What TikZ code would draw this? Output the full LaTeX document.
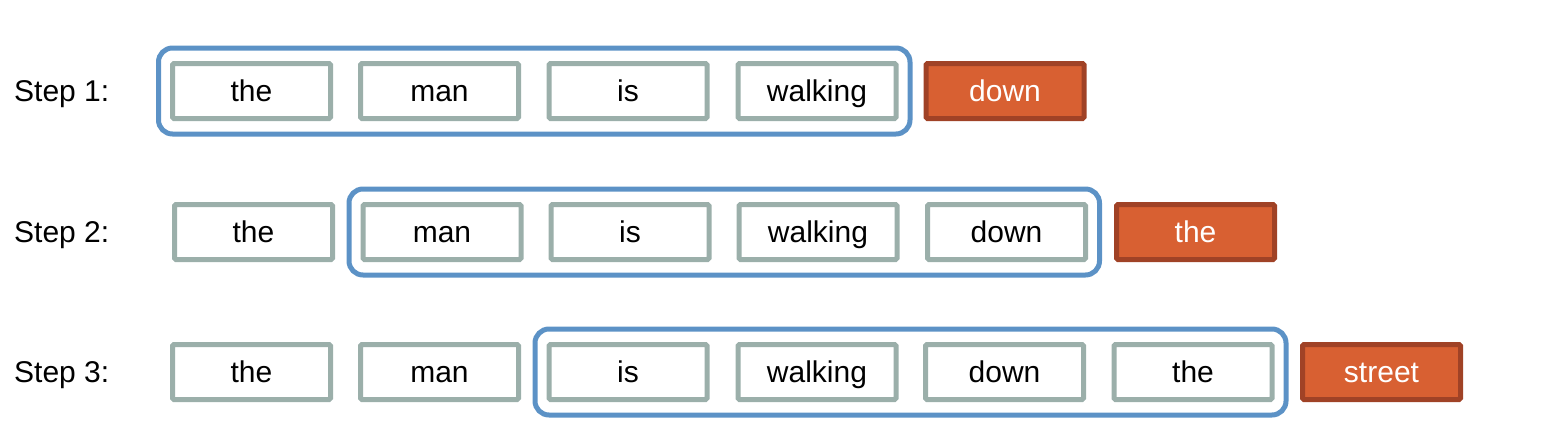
\documentclass[tikz,border=0pt]{standalone}
\usepackage{fontspec}
\setmainfont{Liberation Sans}
\usetikzlibrary{fit}
\definecolor{wgray}{RGB}{155,175,170}
\definecolor{wblue}{RGB}{92,146,198}
\definecolor{rfill}{RGB}{216,96,50}
\definecolor{rdraw}{RGB}{160,66,38}
\tikzset{
  word/.style={draw=wgray, line width=5pt, fill=white, minimum width=158pt, minimum height=55pt, outer sep=0pt, inner sep=0pt, rounded corners=1.5pt, font=\fontsize{30}{36}\selectfont, text height=24pt, text depth=4pt, text=black},
  target/.style={word, draw=rdraw, fill=rfill, text=white},
  win/.style={draw=wblue, line width=5pt, rounded corners=14pt, inner xsep=14pt, inner ysep=15.5pt, outer sep=0pt},
  steplabel/.style={anchor=west, inner sep=0pt, font=\fontsize{30}{36}\selectfont, text height=24pt, text depth=4pt}
}
\begin{document}
\begin{tikzpicture}[x=1pt,y=-1pt]
\useasboundingbox (0,0) rectangle (1548,429);
% Row 1
\node[steplabel] (s1) at (14,91) {Step 1:};
\node[word] (a1) at (251.5,91) {the};
\node[word] (a2) at (439.5,91) {man};
\node[word] (a3) at (628,91) {is};
\node[word] (a4) at (817,91) {walking};
\node[target] (a5) at (1005,91) {down};
\node[win, fit=(a1)(a4)] (w1) {};
% Row 2
\node[steplabel] (s2) at (14,232) {Step 2:};
\node[word] (b1) at (253.5,232) {the};
\node[word] (b2) at (442,232) {man};
\node[word] (b3) at (630,232) {is};
\node[word] (b4) at (818,232) {walking};
\node[word] (b5) at (1006.5,232) {down};
\node[target] (b6) at (1195.5,232) {the};
\node[win, fit=(b2)(b5)] (w2) {};
% Row 3
\node[steplabel] (s3) at (14,372) {Step 3:};
\node[word] (c1) at (251.5,372) {the};
\node[word] (c2) at (439.5,372) {man};
\node[word] (c3) at (628,372) {is};
\node[word] (c4) at (817,372) {walking};
\node[word] (c5) at (1004.5,372) {down};
\node[word] (c6) at (1193,372) {the};
\node[target] (c7) at (1381.5,372) {street};
\node[win, fit=(c3)(c6)] (w3) {};
\end{tikzpicture}
\end{document}
